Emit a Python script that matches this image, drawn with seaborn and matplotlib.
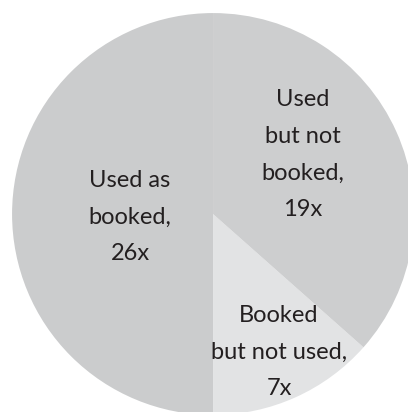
import matplotlib
matplotlib.use("Agg")
import matplotlib.pyplot as plt
import seaborn as sns

# Data
labels = ["Used as\nbooked,\n26x", "Booked\nbut not used,\n7x", "Used\nbut not\nbooked,\n19x"]
counts = [26, 7, 19]
colors = ["#cbcccd", "#e2e3e4", "#cdcecf"]

# label anchor points (data units, pie radius = 1)
label_x = [-0.413, 0.328, 0.448]
label_y = [-0.015, -0.687, 0.294]

sns.set_theme(style="white")
plt.rcParams['font.family'] = ['Lato', 'DejaVu Sans']

fig = plt.figure(figsize=(4.08, 4.12), dpi=100)
ax = fig.add_axes([0, 0, 1, 1])

ax.pie(counts, colors=colors, startangle=90, counterclock=True,
       radius=1, wedgeprops=dict(linewidth=0))

for txt, x, y in zip(labels, label_x, label_y):
    ax.text(x, y, txt, ha='center', va='center', fontsize=17,
            color='#231f20', linespacing=1.92)

ax.set_xlim(-1.06, 0.97)
ax.set_ylim(-0.985, 1.065)
ax.set_aspect('equal')
ax.axis('off')

fig.savefig('out.png', dpi=100, facecolor='white')
